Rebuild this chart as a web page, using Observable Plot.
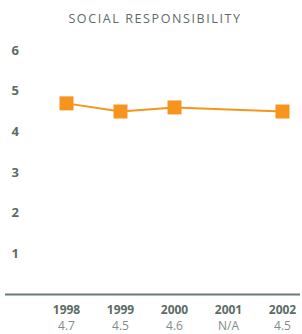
<!DOCTYPE html>
<html><head><meta charset="utf-8">
<script src="https://cdn.jsdelivr.net/npm/d3@7"></script>
<script src="https://cdn.jsdelivr.net/npm/@observablehq/plot@0.6"></script>
<style>
body{margin:0;background:#fff;width:302px;height:334px;overflow:hidden;font-family:"Open Sans",sans-serif;}
#title{height:32px;line-height:37px;text-align:center;font-size:12.5px;letter-spacing:1.6px;color:#5d6b66;padding-left:8px;box-sizing:border-box;}
</style></head>
<body>
<div id="title">SOCIAL RESPONSIBILITY</div>
<div id="chart"></div>
<script>
const years = ["1998","1999","2000","2001","2002"];
const values = [4.7, 4.5, 4.6, null, 4.5];
const valueLabels = ["4.7","4.5","4.6","N/A","4.5"];
const yTicks = [1,2,3,4,5,6];

const rows = years.map((y,i)=>({year:y, value:values[i], label:valueLabels[i]}));
const present = rows.filter(d=>d.value!=null);

const chart = Plot.plot({
  width:302, height:302,
  marginLeft:5, marginRight:2, marginTop:18, marginBottom:40,
  style:{fontFamily:"'Open Sans',sans-serif", background:"#fff", overflow:"visible"},
  x:{type:"point", domain:years, padding:0, insetLeft:60, insetRight:17, axis:null},
  y:{domain:[0,6], axis:null},
  marks:[
    Plot.ruleY([0],{stroke:"#6b7a74", strokeWidth:2}),
    Plot.text(yTicks,{y:d=>d, text:d=>String(d), frameAnchor:"left", dx:6, textAnchor:"start", fontWeight:"bold", fontSize:13, fill:"#5d6b66"}),
    Plot.line(present,{x:"year", y:"value", stroke:"#F7941D", strokeWidth:2}),
    Plot.dot(present,{x:"year", y:"value", symbol:"square", r:7.9, fill:"#F7941D", stroke:"none"}),
    Plot.text(rows,{x:"year", text:"year", frameAnchor:"bottom", lineAnchor:"middle", dy:15.5, fontWeight:"bold", fontSize:12, fill:"#5d6b66"}),
    Plot.text(rows,{x:"year", text:"label", frameAnchor:"bottom", lineAnchor:"middle", dy:31.5, fontSize:12, fill:"#808c87"})
  ]
});
document.getElementById("chart").appendChild(chart);
</script>
</body></html>
